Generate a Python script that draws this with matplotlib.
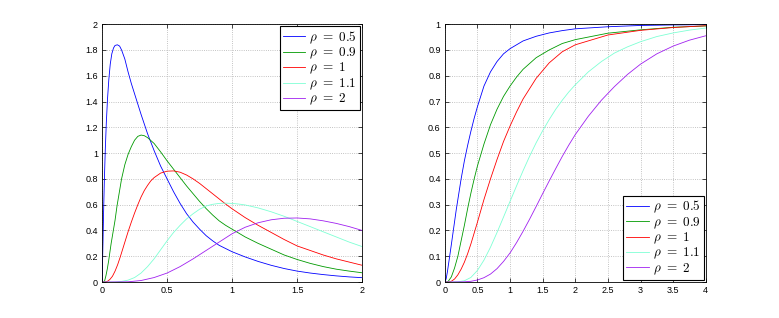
import numpy as np
import matplotlib
matplotlib.use('Agg')
import matplotlib.pyplot as plt
from matplotlib.ticker import FuncFormatter

plt.rcParams['mathtext.fontset'] = 'cm'
plt.rcParams['font.family'] = ['Liberation Sans', 'DejaVu Sans']

labels = [r'$\rho\ =\ 0.5$', r'$\rho\ =\ 0.9$', r'$\rho\ =\ 1$', r'$\rho\ =\ 1.1$', r'$\rho\ =\ 2$']
colors = ['#0000ff', '#009a00', '#ff0000', '#7fffd4', '#a020f0']

# left panel: density curves
pdf_x_05 = [0, 0.003, 0.007, 0.012, 0.018, 0.025, 0.033, 0.042, 0.052, 0.063, 0.075, 0.088, 0.1, 0.118,
            0.135, 0.15, 0.175, 0.2, 0.225, 0.25, 0.3, 0.35, 0.4, 0.45, 0.5, 0.55, 0.6, 0.65, 0.7, 0.75,
            0.8, 0.85, 0.9, 0.95, 1.0, 1.1, 1.2, 1.3, 1.4, 1.5, 1.6, 1.7, 1.8, 1.9, 2.0]
pdf_y_05 = [0, 0.12, 0.3, 0.55, 0.8, 1.03, 1.24, 1.42, 1.57, 1.69, 1.77, 1.815, 1.835, 1.84,
            1.83, 1.8, 1.73, 1.63, 1.54, 1.46, 1.3, 1.15, 1.02, 0.9, 0.8, 0.7, 0.61, 0.53, 0.465, 0.41,
            0.36, 0.32, 0.285, 0.26, 0.235, 0.195, 0.16, 0.13, 0.105, 0.085, 0.07, 0.058, 0.048, 0.04, 0.034]

pdf_x_09 = [0, 0.01, 0.02, 0.03, 0.04, 0.05, 0.06, 0.07, 0.08, 0.09, 0.1, 0.115, 0.13, 0.15, 0.175, 0.2,
            0.225, 0.25, 0.275, 0.3, 0.325, 0.35, 0.4, 0.45, 0.5, 0.55, 0.6, 0.65, 0.7, 0.75, 0.8, 0.85,
            0.9, 0.95, 1.0, 1.1, 1.2, 1.3, 1.4, 1.5, 1.6, 1.7, 1.8, 1.9, 2.0]
pdf_y_09 = [0, 0, 0.01, 0.05, 0.1, 0.16, 0.23, 0.3, 0.36, 0.42, 0.48, 0.59, 0.68, 0.8, 0.91, 0.99,
            1.05, 1.1, 1.13, 1.14, 1.135, 1.12, 1.075, 1.01, 0.94, 0.875, 0.81, 0.745, 0.685, 0.625, 0.57, 0.52,
            0.475, 0.44, 0.41, 0.35, 0.3, 0.255, 0.21, 0.175, 0.145, 0.12, 0.1, 0.085, 0.072]

pdf_x_1 = [0, 0.02, 0.04, 0.06, 0.08, 0.1, 0.12, 0.14, 0.16, 0.18, 0.2, 0.225, 0.25, 0.275, 0.3, 0.325,
           0.35, 0.375, 0.4, 0.45, 0.5, 0.55, 0.6, 0.65, 0.7, 0.75, 0.8, 0.85, 0.9, 0.95, 1.0, 1.1, 1.2,
           1.3, 1.4, 1.5, 1.6, 1.7, 1.8, 1.9, 2.0]
pdf_y_1 = [0, 0, 0.005, 0.02, 0.045, 0.085, 0.135, 0.195, 0.26, 0.325, 0.39, 0.465, 0.535, 0.6, 0.66, 0.71,
           0.75, 0.785, 0.81, 0.845, 0.86, 0.862, 0.852, 0.83, 0.8, 0.765, 0.725, 0.685, 0.645, 0.605, 0.568, 0.5, 0.44,
           0.385, 0.33, 0.28, 0.245, 0.21, 0.18, 0.155, 0.13]

pdf_x_11 = [0, 0.1, 0.15, 0.2, 0.25, 0.3, 0.35, 0.4, 0.45, 0.5, 0.55, 0.6, 0.65, 0.7, 0.75, 0.8, 0.85,
            0.9, 0.95, 1.0, 1.05, 1.1, 1.2, 1.3, 1.4, 1.5, 1.6, 1.7, 1.8, 1.9, 2.0]
pdf_y_11 = [0, 0, 0.005, 0.015, 0.035, 0.07, 0.12, 0.18, 0.25, 0.32, 0.385, 0.44, 0.49, 0.53, 0.565, 0.59, 0.603,
            0.61, 0.612, 0.61, 0.605, 0.598, 0.575, 0.545, 0.51, 0.47, 0.43, 0.39, 0.35, 0.31, 0.275]

pdf_x_2 = [0, 0.2, 0.3, 0.4, 0.5, 0.6, 0.7, 0.8, 0.9, 1.0, 1.1, 1.2, 1.3, 1.4, 1.5, 1.6, 1.7, 1.8, 1.9, 2.0]
pdf_y_2 = [0, 0.002, 0.012, 0.035, 0.07, 0.12, 0.18, 0.245, 0.31, 0.375, 0.425, 0.46, 0.483, 0.495, 0.497,
           0.49, 0.475, 0.455, 0.43, 0.4]

# right panel: cumulative curves
cdf_x_05 = [0, 0.02, 0.04, 0.06, 0.08, 0.1, 0.125, 0.15, 0.175, 0.2, 0.25, 0.3, 0.35, 0.4, 0.45, 0.5, 0.6,
            0.7, 0.8, 0.9, 1.0, 1.2, 1.4, 1.6, 1.8, 2.0, 2.5, 3.0, 3.5, 4.0]
cdf_y_05 = [0, 0.012, 0.04, 0.075, 0.11, 0.145, 0.19, 0.235, 0.28, 0.32, 0.4, 0.47, 0.53, 0.585, 0.635, 0.68, 0.76,
            0.815, 0.855, 0.885, 0.905, 0.935, 0.953, 0.966, 0.975, 0.982, 0.99, 0.995, 0.997, 0.998]

cdf_x_09 = [0, 0.05, 0.1, 0.15, 0.2, 0.25, 0.3, 0.35, 0.4, 0.45, 0.5, 0.6, 0.7, 0.8, 0.9, 1.0, 1.1, 1.2,
            1.4, 1.6, 1.8, 2.0, 2.5, 3.0, 3.5, 4.0]
cdf_y_09 = [0, 0.002, 0.02, 0.055, 0.1, 0.16, 0.22, 0.285, 0.345, 0.4, 0.45, 0.535, 0.61, 0.67, 0.72, 0.76, 0.795,
            0.825, 0.87, 0.9, 0.925, 0.94, 0.965, 0.978, 0.988, 0.993]

cdf_x_1 = [0, 0.05, 0.1, 0.15, 0.2, 0.25, 0.3, 0.35, 0.4, 0.45, 0.5, 0.6, 0.7, 0.8, 0.9, 1.0, 1.1, 1.2,
           1.4, 1.6, 1.8, 2.0, 2.5, 3.0, 3.5, 4.0]
cdf_y_1 = [0, 0, 0.003, 0.012, 0.028, 0.05, 0.077, 0.11, 0.148, 0.19, 0.232, 0.32, 0.4, 0.475, 0.545, 0.605, 0.66,
           0.71, 0.79, 0.85, 0.893, 0.92, 0.958, 0.976, 0.987, 0.994]

cdf_x_11 = [0, 0.2, 0.3, 0.4, 0.5, 0.6, 0.7, 0.8, 0.9, 1.0, 1.1, 1.2, 1.3, 1.4, 1.5, 1.6, 1.7, 1.8, 1.9,
            2.0, 2.2, 2.4, 2.6, 2.8, 3.0, 3.25, 3.5, 3.75, 4.0]
cdf_y_11 = [0, 0.001, 0.005, 0.018, 0.045, 0.085, 0.135, 0.192, 0.252, 0.313, 0.373, 0.432, 0.488, 0.54, 0.587,
            0.63, 0.67, 0.705, 0.737, 0.765, 0.815, 0.855, 0.888, 0.912, 0.932, 0.952, 0.966, 0.977, 0.985]

cdf_x_2 = [0, 0.3, 0.4, 0.5, 0.6, 0.7, 0.8, 0.9, 1.0, 1.1, 1.2, 1.3, 1.4, 1.5, 1.6, 1.7, 1.8, 1.9, 2.0,
           2.2, 2.4, 2.6, 2.8, 3.0, 3.25, 3.5, 3.75, 4.0]
cdf_y_2 = [0, 0.001, 0.003, 0.008, 0.017, 0.031, 0.052, 0.08, 0.113, 0.153, 0.197, 0.244, 0.293, 0.343, 0.392,
           0.44, 0.487, 0.531, 0.572, 0.643, 0.705, 0.758, 0.805, 0.845, 0.885, 0.915, 0.938, 0.955]

pdf_x = [pdf_x_05, pdf_x_09, pdf_x_1, pdf_x_11, pdf_x_2]
pdf_y = [pdf_y_05, pdf_y_09, pdf_y_1, pdf_y_11, pdf_y_2]
cdf_x = [cdf_x_05, cdf_x_09, cdf_x_1, cdf_x_11, cdf_x_2]
cdf_y = [cdf_y_05, cdf_y_09, cdf_y_1, cdf_y_11, cdf_y_2]

fig = plt.figure(figsize=(7.79, 3.18), dpi=100)
ax1 = fig.add_axes([0.131, 0.113, 0.334, 0.811])
ax2 = fig.add_axes([0.571, 0.113, 0.335, 0.811])

fmt = FuncFormatter(lambda v, p: f'{v:g}')

for ax, xs, ys, xmax, ymax, xstep, ystep, loc in [
        (ax1, pdf_x, pdf_y, 2, 2, 0.5, 0.2, 'upper right'),
        (ax2, cdf_x, cdf_y, 4, 1, 0.5, 0.1, 'lower right')]:
    for x, y, c, lab in zip(xs, ys, colors, labels):
        ax.plot(x, y, color=c, lw=0.6, label=lab)
    ax.set_xlim(0, xmax)
    ax.set_ylim(0, ymax)
    ax.set_xticks(np.arange(0, xmax + 1e-9, xstep))
    ax.set_yticks(np.arange(0, ymax + 1e-9, ystep))
    ax.xaxis.set_major_formatter(fmt)
    ax.yaxis.set_major_formatter(fmt)
    ax.tick_params(direction='in', top=True, right=True, length=3, width=0.5, labelsize=6.5, pad=3)
    ax.grid(True, linestyle=':', color='#b0b0b0', lw=0.6)
    for s in ax.spines.values():
        s.set_linewidth(0.6)
    leg = ax.legend(loc=loc, fontsize=9.5, fancybox=False, framealpha=1, edgecolor='black',
                    borderaxespad=0.15, handlelength=1.7, handletextpad=0.3, labelspacing=0.0,
                    borderpad=0.25)
    leg.get_frame().set_linewidth(0.8)

plt.savefig('out.png', dpi=100)
